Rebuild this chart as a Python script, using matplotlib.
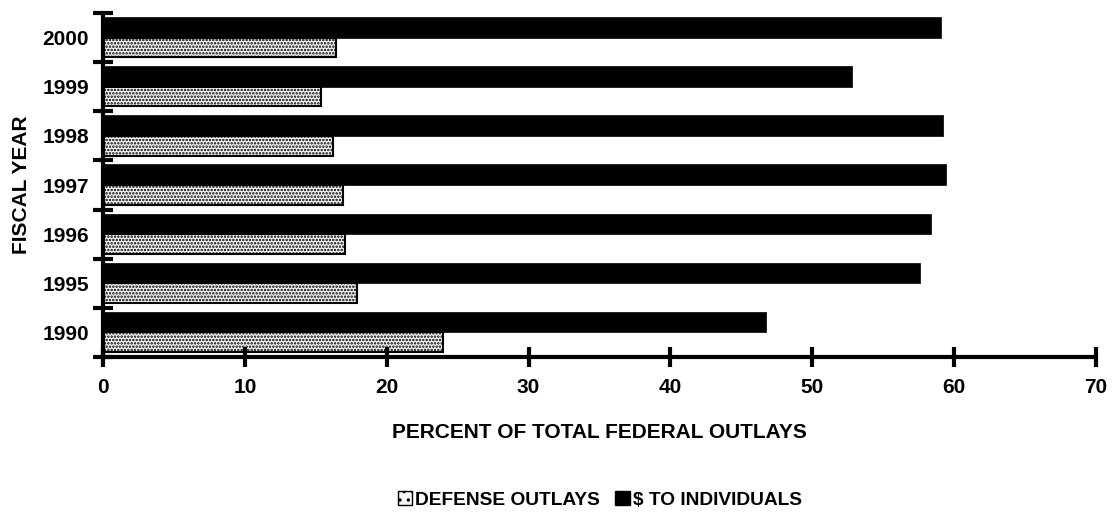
import matplotlib
matplotlib.use("Agg")
import matplotlib.pyplot as plt
import numpy as np
from matplotlib.patches import Patch

years = ["1990", "1995", "1996", "1997", "1998", "1999", "2000"]
defense = [24.0, 17.9, 17.05, 16.9, 16.2, 15.4, 16.4]
individuals = [46.7, 57.6, 58.4, 59.4, 59.2, 52.8, 59.1]
xticks = [0, 10, 20, 30, 40, 50, 60, 70]

plt.rcParams['font.family'] = ['Liberation Sans', 'DejaVu Sans']
plt.rcParams['hatch.linewidth'] = 1.2
plt.rcParams['hatch.color'] = '#333333'

fig = plt.figure(figsize=(11.15, 5.14), dpi=100)
ax = fig.add_axes([0.0924, 0.3054, 0.983 - 0.0924, 0.9747 - 0.3054])

y = np.arange(len(years))
ax.barh(y + 0.21, individuals, height=0.42, color='black', edgecolor='black', linewidth=0.5,
        label='$ TO INDIVIDUALS')
ax.barh(y - 0.2, defense, height=0.4, facecolor='#f7f7f7', edgecolor='black', linewidth=1.5,
        hatch='.....', label='DEFENSE OUTLAYS')

ax.set_xlim(0, 70)
ax.set_ylim(-0.5, len(years) - 0.5)

for s in ['top', 'right']:
    ax.spines[s].set_visible(False)
for s in ['left', 'bottom']:
    ax.spines[s].set_linewidth(3)
    ax.spines[s].set_capstyle('round')

fs = 15
ax.set_xticks(xticks)
ax.set_xticklabels([str(v) for v in xticks], fontsize=fs, fontweight='bold')
ax.tick_params(axis='x', direction='inout', length=14, width=3, pad=8)

ax.set_yticks(y)
ax.set_yticklabels(years, fontsize=fs, fontweight='bold')
ax.tick_params(axis='y', which='major', length=0, pad=10)
ax.set_yticks(np.arange(-0.5, len(years), 1.0), minor=True)
ax.tick_params(axis='y', which='minor', direction='inout', length=14, width=3)

ax.set_xlabel('PERCENT OF TOTAL FEDERAL OUTLAYS', fontsize=fs, fontweight='bold', labelpad=19)
ax.set_ylabel('FISCAL YEAR', fontsize=fs, fontweight='bold', labelpad=8)

handles = [Patch(facecolor='#f7f7f7', edgecolor='black', hatch='..', linewidth=1),
           Patch(facecolor='black', edgecolor='black')]
fig.legend(handles, ['DEFENSE OUTLAYS', '$ TO INDIVIDUALS'], loc='center',
           bbox_to_anchor=(0.538, 0.027), ncol=2, frameon=False,
           prop={'weight': 'bold', 'size': 13.8}, handlelength=0.75, handleheight=0.75,
           handletextpad=0.15, columnspacing=0.8)

fig.savefig('out.png', dpi=100)
